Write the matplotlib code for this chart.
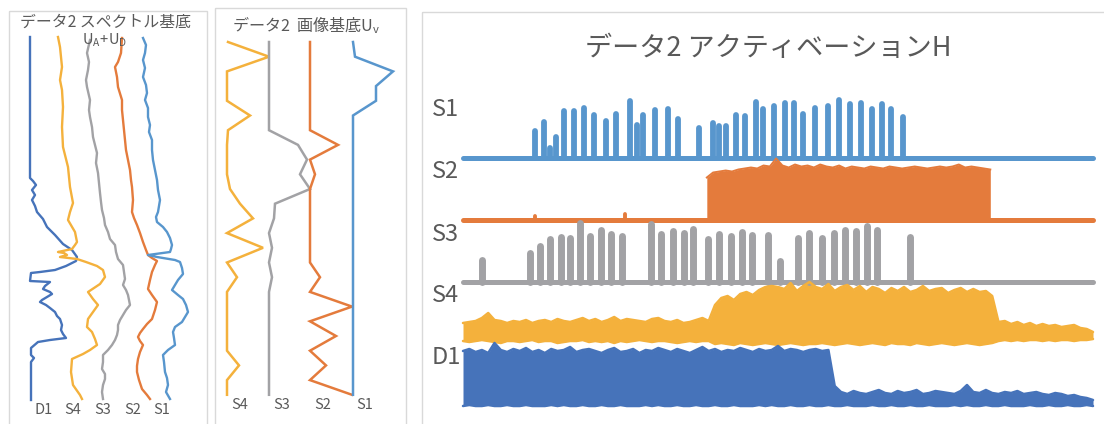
import numpy as np
import matplotlib
matplotlib.use("Agg")
import matplotlib.pyplot as plt
from matplotlib.patches import Rectangle

plt.rcParams['font.family'] = ['Noto Sans CJK JP', 'DejaVu Sans']
plt.rcParams['mathtext.default'] = 'regular'

# ---------------------------------------------------------------------------
# Spectral bases U_A + U_D : (frequency bin, magnitude) per component
# ---------------------------------------------------------------------------
spec_bins_d1 = [0, 141, 144, 148, 153, 158, 163, 169, 175, 182, 190, 198, 207, 213, 220, 224,
                229, 233, 235, 236, 244, 245, 249, 252, 255, 257, 260, 263, 265, 268, 271, 275,
                279, 282, 285, 288, 293, 297, 301, 303, 305, 311, 318, 321, 325, 363]
spec_d1 = [0, 0, 3, 6, 2, 5, 2, 5, 7, 13, 17, 25, 33, 42, 47, 46, 36, 25, 10, 1, 0, 20, 15, 13,
           20, 22, 17, 12, 10, 16, 20, 25, 27, 30, 31, 32, 31, 33, 36, 20, 8, 1, 1, 4, 1, 1]

spec_bins_s4 = [0, 10, 20, 30, 43, 53, 70, 90, 110, 130, 150, 166, 175, 183, 195, 205, 208, 212,
                215, 216, 218, 220, 222, 225, 229, 233, 240, 247, 255, 262, 268, 275, 282, 290,
                295, 302, 308, 313, 317, 322, 335, 348, 358, 362]
spec_s4 = [0, 2, 3, 4, 2, 4, 5, 4, 5, 10, 12, 15, 12, 10, 17, 19, 17, 14, 0, 6, 9, 2, 19, 28,
           39, 45, 47, 42, 30, 35, 40, 35, 30, 29, 34, 37, 39, 32, 25, 14, 13, 15, 22, 24]

spec_bins_s3 = [3, 16, 25, 33, 43, 50, 63, 73, 80, 90, 100, 108, 116, 126, 136, 146, 156, 165,
                173, 181, 188, 195, 202, 208, 215, 222, 228, 235, 242, 248, 253, 258, 263, 268,
                273, 278, 283, 288, 293, 298, 303, 308, 313, 318, 325, 332, 337, 342, 348, 355, 362]
spec_s3 = [2, -1, 1, 0, -2, -1, 2, 1, 2, 4, 5, 7, 9, 8, 10, 11, 12, 13, 14, 16, 17, 20, 22, 27,
           28, 30, 35, 36, 37, 35, 38, 40, 41, 42, 38, 35, 32, 30, 30, 29, 27, 24, 20, 15, 15,
           14, 17, 17, 15, 14, 15]

spec_bins_s2 = [1, 16, 25, 30, 35, 40, 50, 63, 73, 83, 93, 103, 113, 123, 133, 143, 150, 163,
                175, 181, 188, 196, 205, 213, 218, 221, 224, 228, 235, 243, 252, 258, 265, 273,
                282, 287, 292, 296, 300, 304, 308, 315, 322, 329, 335, 343, 352, 358, 362]
spec_s2 = [1, 0, -3, -6, -5, -4, -3, 1, 1, 2, 3, 4, 5, 7, 9, 10, 11, 12, 11, 13, 16, 19, 22, 25,
           27, 31, 36, 34, 31, 29, 27, 31, 36, 34, 31, 26, 22, 19, 17, 19, 22, 19, 17, 16, 16,
           18, 21, 26, 29]

spec_bins_s1 = [1, 8, 16, 23, 31, 40, 48, 56, 63, 71, 80, 88, 95, 103, 113, 123, 133, 143, 153,
                163, 175, 180, 185, 190, 195, 201, 208, 212, 215, 218, 220, 223, 225, 231, 237,
                243, 248, 253, 258, 262, 268, 275, 280, 285, 290, 295, 301, 308, 313, 318, 325,
                335, 341, 348, 355, 362]
spec_s1 = [0, 3, 2, 0, 2, 0, 3, 4, 2, 5, 5, 7, 6, 9, 9, 10, 12, 14, 15, 17, 15, 13, 14, 20, 24,
           27, 29, 28, 27, 5, 14, 32, 37, 39, 40, 35, 32, 29, 35, 40, 43, 45, 42, 39, 32, 30, 31,
           32, 25, 20, 21, 22, 24, 25, 23, 27]

# ---------------------------------------------------------------------------
# Image bases U_V : 25 bins per component
# ---------------------------------------------------------------------------
img_s4 = [1, 42, 0, 0, 0, 23, 1, 0, 0, 0, 3, 13, 26, 0, 36, 0, 10, 0, 0, 0, 0, 0, 12, 0, 0]
img_s3 = [0, 0, 0, 0, 0, 0, 0, 29, 38, 31, 41, 6, 5, 0, 3, 0, 3, 0, 0, 0, 0, 0, 0, 0, 0]
img_s2 = [0, 0, 0, 0, 0, 0, 0, 28, 0, 5, 0, 0, 0, 0, 0, 0, 10, 0, 42, 0, 26, 0, 16, 0, 42]
img_s1 = [0, 2, 40, 23, 23, 0, 0, 0, 0, 0, 0, 0, 0, 0, 0, 0, 0, 0, 0, 0, 0, 0, 0, 0, 0]

# ---------------------------------------------------------------------------
# Activations H (frames 0..1000)
# ---------------------------------------------------------------------------
act_s1_frames = [114, 129, 138, 148, 160, 176, 192, 208, 227, 243, 265, 276, 286, 305, 325, 341,
                 375, 397, 406, 418, 433, 448, 465, 476, 494, 511, 525, 540, 559, 579, 597, 614,
                 632, 649, 665, 679, 698]
act_s1_peaks = [30, 39, 13, 24, 50, 50, 53, 46, 40, 47, 60, 36, 46, 51, 52, 42, 33, 38, 35, 35,
                46, 45, 59, 52, 55, 58, 58, 47, 53, 55, 61, 57, 58, 52, 57, 52, 44]

act_s3_frames = [30, 106, 122, 138, 156, 170, 186, 202, 219, 235, 252, 298, 314, 333, 351, 365,
                 389, 406, 425, 443, 459, 484, 503, 532, 549, 570, 589, 606, 624, 641, 657, 710]
act_s3_peaks = [26, 33, 40, 47, 49, 48, 63, 50, 56, 52, 50, 62, 52, 55, 53, 57, 47, 52, 50, 54,
                51, 51, 25, 48, 53, 48, 53, 56, 55, 60, 56, 49]

act_s2_bump_frames = [114, 257]
act_s2_bump_peaks = [5, 7]
act_s2_band_frames = np.arange(387, 838, 10)
act_s2_band_hi = [42, 47, 48, 49, 48, 50, 51, 52, 51, 54, 53, 61, 54, 52, 55, 53, 54, 52, 55, 53,
                  52, 54, 51, 53, 52, 51, 53, 52, 51, 53, 52, 51, 52, 53, 52, 51, 52, 53, 52, 53,
                  55, 52, 53, 52, 51, 50]

env_frames = np.arange(0, 1001, 10)
act_s4_hi = [22, 23, 24, 27, 32, 25, 24, 22, 24, 23, 25, 22, 24, 25, 23, 26, 24, 23, 25, 27,
             24, 26, 23, 25, 28, 24, 26, 25, 24, 23, 26, 27, 24, 23, 25, 22, 23, 25, 27, 24,
             40, 47, 49, 45, 51, 53, 50, 55, 58, 59, 58, 56, 62, 54, 59, 63, 58, 56, 61, 54,
             58, 60, 55, 59, 53, 58, 56, 52, 57, 54, 58, 53, 55, 59, 54, 56, 57, 52, 55, 57,
             53, 56, 53, 54, 49,
             23, 24, 21, 23, 20, 22, 19, 21, 19, 20, 18, 19, 20, 17, 16, 13]
act_s4_lo = [4, 3, 4, 5, 4, 3, 2, 4, 4, 3, 4, 5, 3, 4, 4, 2, 3, 4, 4, 5,
             3, 4, 3, 4, 2, 4, 3, 4, 5, 4, 3, 4, 4, 3, 2, 3, 4, 3, 4, 4,
             1, 2, 1, 0, 2, 1, 0, 1, 2, 1, 0, 1, 2, 1, 0, 1, 1, 2, 1, 0,
             1, 2, 1, 0, 1, 2, 1, 0, 2, 1, 1, 0, 2, 1, 0, 1, 2, 1, 0, 1,
             2, 1, 0, 1, 2,
             4, 5, 4, 5, 4, 5, 5, 4, 5, 4, 5, 5, 4, 5, 5, 6]
act_d1_hi = [55, 57, 54, 56, 53, 63, 56, 54, 57, 55, 58, 54, 56, 53, 57, 55, 56, 59, 54, 56,
             57, 55, 53, 56, 58, 54, 55, 57, 53, 56, 55, 58, 56, 54, 57, 55, 53, 56, 59, 55,
             57, 54, 56, 55, 58, 56, 54, 57, 55, 56, 60, 55, 57, 56, 54, 56, 57, 55, 56,
             20, 14, 12, 15, 13, 12, 14, 16, 13, 12, 15, 13, 14, 16, 12, 13, 15, 14, 13, 12,
             15, 21, 14, 13, 16, 13, 12, 14, 13, 15, 12, 13, 14, 12, 11, 13, 12, 10, 11, 9,
             8, 6]
act_d1_lo = [0, 1, 0, 0, 1, 0, 0, 1, 0, 0, 1, 0, 0, 0, 1, 0, 1, 0, 0, 1,
             0, 0, 1, 0, 0, 1, 0, 0, 0, 1, 0, 1, 0, 0, 1, 0, 0, 1, 0, 0,
             1, 0, 0, 1, 0, 0, 0, 1, 0, 1, 0, 0, 1, 0, 0, 1, 0, 0, 1, 0,
             0, 1, 0, 0, 0, 1, 0, 0, 1, 0, 0, 1, 0, 0, 1, 0, 0, 0, 1, 0,
             1, 0, 0, 1, 0, 0, 1, 0, 0, 0, 1, 0, 0, 1, 0, 0, 1, 0, 0, 1, 0]

# ---------------------------------------------------------------------------
# Styling
# ---------------------------------------------------------------------------
TEXT = '#595959'
EDGE = '#D9D9D9'
C = {'S1': '#5896CD', 'S2': '#E47B3C', 'S3': '#A2A2A5', 'S4': '#F4B13C', 'D1': '#4673BA'}
FONT = ['Noto Sans CJK JP', 'DejaVu Sans']

W, H = 1104, 424
fig = plt.figure(figsize=(W / 100, H / 100), dpi=100)


def box(x0, y0, x1, y1):
    """Axes placed by a pixel box measured from the top-left corner."""
    ax = fig.add_axes([x0 / W, 1 - y1 / H, (x1 - x0) / W, (y1 - y0) / H])
    ax.axis('off')
    return ax


def label(x, y, s, size, ha='center'):
    fig.text(x / W, 1 - y / H, s, ha=ha, va='center', fontsize=size, color=TEXT,
             family=FONT)


# panel frames
frame_ax = box(0, 0, W, H)
frame_ax.set_xlim(0, W)
frame_ax.set_ylim(H, 0)
for x0, y0, x1 in [(8.5, 10.5, 206.5), (214.5, 7.5, 405.5), (421.5, 11.5, W + 20)]:
    frame_ax.add_patch(Rectangle((x0, y0), x1 - x0, H + 20 - y0, fill=False,
                                 ec=EDGE, lw=1.0))

# ---- spectral bases ----
ax_l = box(8, 37, 207, 400)
ax_l.set_xlim(0, 199)
ax_l.set_ylim(363, 0)
spec = [('D1', spec_bins_d1, spec_d1, 22), ('S4', spec_bins_s4, spec_s4, 50),
        ('S3', spec_bins_s3, spec_s3, 80), ('S2', spec_bins_s2, spec_s2, 113),
        ('S1', spec_bins_s1, spec_s1, 135)]
for name, bins, vals, col in spec:
    ax_l.plot(col + np.asarray(vals), bins, color=C[name], lw=1.7, clip_on=False,
              solid_joinstyle='round')

label(105, 22, 'データ2 スペクトル基底', 11.4)
label(105, 40, r'$U_A\!+\!U_D$', 10.5)
for name, x in zip(['D1', 'S4', 'S3', 'S2', 'S1'], [44, 73, 103, 133, 162]):
    label(x, 410, name, 10.5)

# ---- image bases ----
ax_m = box(214, 42, 405, 394.8)
ax_m.set_xlim(0, 191)
ax_m.set_ylim(len(img_s1) - 1, 0)
img_bins = np.arange(len(img_s1))
for name, vals, col in [('S4', img_s4, 13), ('S3', img_s3, 55), ('S2', img_s2, 96),
                        ('S1', img_s1, 139)]:
    ax_m.plot(col + np.asarray(vals), img_bins, color=C[name], lw=1.8, clip_on=False,
              solid_joinstyle='miter')

label(306, 25, 'データ2  画像基底$U_v$', 11.6)
for name, x in zip(['S4', 'S3', 'S2', 'S1'], [240, 282, 323, 365]):
    label(x, 405, name, 10.5)

# ---- activations ----
ax_r = box(463, 85, 1093, 415)
ax_r.set_xlim(env_frames[0], env_frames[-1])
ax_r.set_ylim(0, 330)
base = {'S1': 257, 'S2': 195.5, 'S3': 133, 'S4': 70, 'D1': 9}
span = [env_frames[0], env_frames[-1]]

# S1 pulses
ax_r.plot(span, [base['S1']] * 2, color=C['S1'], lw=3.6, solid_capstyle='round',
          clip_on=False)
ax_r.vlines(act_s1_frames, base['S1'], base['S1'] + np.asarray(act_s1_peaks) - 2.8,
            color=C['S1'], lw=4.2, capstyle='round', clip_on=False)

# S2 band
ax_r.plot(span, [base['S2']] * 2, color=C['S2'], lw=3.6, solid_capstyle='round',
          clip_on=False)
ax_r.vlines(act_s2_bump_frames, base['S2'], base['S2'] + np.asarray(act_s2_bump_peaks) - 1.5,
            color=C['S2'], lw=2.8, capstyle='round', clip_on=False)
s2_top = base['S2'] + np.asarray(act_s2_band_hi)
ax_r.fill_between(act_s2_band_frames, base['S2'] - 2, s2_top, color=C['S2'], lw=0,
                  clip_on=False)
ax_r.plot(act_s2_band_frames, s2_top, color=C['S2'], lw=1.4, clip_on=False)

# S3 pulses
ax_r.plot(span, [base['S3']] * 2, color=C['S3'], lw=3.6, solid_capstyle='round',
          clip_on=False)
ax_r.vlines(act_s3_frames, base['S3'], base['S3'] + np.asarray(act_s3_peaks) - 3.5,
            color=C['S3'], lw=5.0, capstyle='round', clip_on=False)

# S4 and D1 bands
for name, hi, lo in [('S4', act_s4_hi, act_s4_lo), ('D1', act_d1_hi, act_d1_lo)]:
    top = base[name] + np.asarray(hi)
    bot = base[name] + np.asarray(lo)
    ax_r.fill_between(env_frames, bot, top, color=C[name], lw=0, clip_on=False)
    for edge in (top, bot):
        ax_r.plot(env_frames, edge, color=C[name], lw=1.8, solid_capstyle='round',
                  solid_joinstyle='round', clip_on=False)

label(768, 48, 'データ2 アクティベーションH', 19.5)
for name, y in zip(['S1', 'S2', 'S3', 'S4', 'D1'], [109, 172, 234, 296, 357]):
    label(432, y, name, 17, ha='left')

fig.savefig('out.png', dpi=100)
